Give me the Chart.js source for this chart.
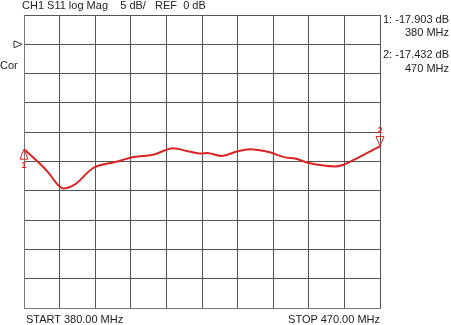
<!DOCTYPE html>
<html>
<head>
<meta charset="utf-8">
<script src="https://cdn.jsdelivr.net/npm/chart.js@4/dist/chart.umd.min.js"></script>
<style>
  html, body { margin: 0; padding: 0; background: #fff; }
  #wrap { position: relative; width: 451px; height: 325px; font-family: "Liberation Sans", Arial, sans-serif; font-size: 11px; color: #222; }
  canvas { position: absolute; left: 0; top: 0; }
  .t { position: absolute; white-space: pre; line-height: 12px; }
</style>
</head>
<body>
<div id="wrap">
  <canvas id="chart" width="451" height="325"></canvas>
  <div class="t" style="left:22px; top:-1px;">CH1 S11 log Mag    5 dB/   REF  0 dB</div>
  <div class="t" style="left:383px; top:13px;">1: -17.903 dB</div>
  <div class="t" style="right:2px; top:26px;">380 MHz</div>
  <div class="t" style="left:383px; top:48px;">2: -17.432 dB</div>
  <div class="t" style="right:2px; top:62px;">470 MHz</div>
  <div class="t" style="left:0px; top:59px;">Cor</div>
  <div class="t" style="left:26px; top:313px;">START 380.00 MHz</div>
  <div class="t" style="right:71px; top:313px;">STOP 470.00 MHz</div>
</div>
<script>
// S11 trace (MHz, dB)
const freqs = [380, 382.8, 386.1, 388.6, 389.9, 392.9, 397.4, 403, 408.1, 410.1, 412.6, 417.7, 421.2, 424.9, 426.3, 430, 433.8, 437.1, 441.7, 446, 448.5, 451.8, 455.3, 458.6, 460.6, 463.7, 467, 470];
const s11 = [-17.9, -19.6, -21.85, -24.0, -24.6, -23.9, -21.15, -20.1, -19.2, -19.05, -18.85, -17.75, -18.2, -18.65, -18.55, -19.05, -18.3, -17.9, -18.35, -19.3, -19.5, -20.2, -20.65, -20.85, -20.6, -19.6, -18.45, -17.432];
const markers = [{ n: "1", f: 380, v: -17.903, up: true }, { n: "2", f: 470, v: -17.432, up: false }];
const refLevel = 0;

const red = "#dd2222";

const markerPlugin = {
  id: "markers",
  afterDatasetsDraw(chart) {
    const ctx = chart.ctx;
    const x = chart.scales.x, y = chart.scales.y;
    ctx.save();
    // reference level arrow on the left
    const ry = y.getPixelForValue(refLevel);
    const l = chart.chartArea.left;
    ctx.strokeStyle = "#333";
    ctx.lineWidth = 1;
    ctx.beginPath();
    ctx.moveTo(l - 10, ry - 3.5);
    ctx.lineTo(l - 2, ry);
    ctx.lineTo(l - 10, ry + 3.5);
    ctx.closePath();
    ctx.stroke();

    ctx.strokeStyle = red;
    ctx.fillStyle = red;
    ctx.font = "bold 9px 'Liberation Sans', Arial";
    ctx.textAlign = "center";
    markers.forEach(m => {
      const px = x.getPixelForValue(m.f);
      const py = y.getPixelForValue(m.v);
      const d = m.up ? 1 : -1;
      ctx.beginPath();
      ctx.moveTo(px, py);
      ctx.lineTo(px - 4, py + d * 10);
      ctx.lineTo(px + 4, py + d * 10);
      ctx.closePath();
      ctx.stroke();
      ctx.textBaseline = "middle";
      ctx.fillText(m.n, px, py + d * 16);
    });
    ctx.restore();
  }
};

new Chart(document.getElementById("chart").getContext("2d"), {
  type: "line",
  data: {
    datasets: [{
      data: freqs.map((f, i) => ({ x: f, y: s11[i] })),
      borderColor: red,
      borderWidth: 2,
      pointRadius: 0,
      cubicInterpolationMode: "monotone",
      fill: false
    }]
  },
  options: {
    responsive: false,
    animation: false,
    layout: { padding: { left: 24, top: 15, right: 71, bottom: 17 } },
    plugins: { legend: { display: false }, tooltip: { enabled: false } },
    scales: {
      x: {
        type: "linear",
        min: 380,
        max: 470,
        ticks: { display: false, stepSize: 9 },
        grid: { color: "#555", lineWidth: 1, drawTicks: false },
        border: { color: "#777", width: 1 }
      },
      y: {
        min: -45,
        max: 5,
        ticks: { display: false, stepSize: 5 },
        grid: { color: "#555", lineWidth: 1, drawTicks: false },
        border: { color: "#777", width: 1 }
      }
    }
  },
  plugins: [markerPlugin]
});
</script>
</body>
</html>
